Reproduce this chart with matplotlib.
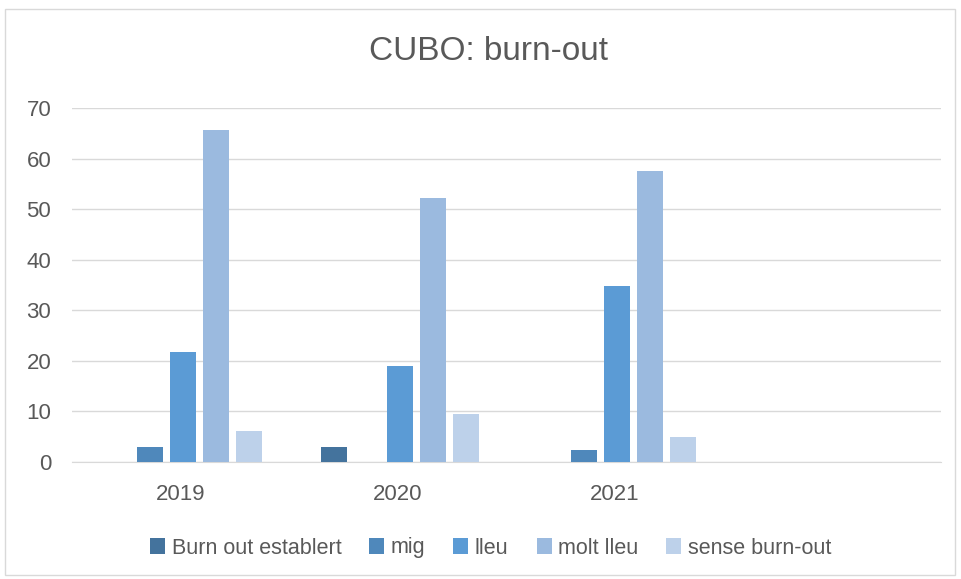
import matplotlib.pyplot as plt
import numpy as np
from matplotlib.patches import Rectangle

plt.rcParams['font.family'] = ['Liberation Sans', 'DejaVu Sans']

categories = ['2019', '2020', '2021', '']
series = ['Burn out establert', 'mig', 'lleu', 'molt lleu', 'sense burn-out']
burn_out = [0, 3.0, 0, np.nan]
mig = [3.0, 0, 2.4, np.nan]
lleu = [21.8, 19.0, 34.9, np.nan]
molt_lleu = [65.6, 52.3, 57.5, np.nan]
sense = [6.1, 9.4, 4.9, np.nan]
values = [burn_out, mig, lleu, molt_lleu, sense]
colors = ['#44739D', '#4F88BB', '#5B9BD5', '#9BBADF', '#BDD1EA']

fig = plt.figure(figsize=(9.62, 5.79), dpi=100)
fig.patches.append(Rectangle((5/962, 4/579), 950/962, 566/579, transform=fig.transFigure,
                             fill=False, edgecolor='#D9D9D9', lw=1))
ax = fig.add_axes([72/962, 1-462/579, (941-72)/962, (462-108)/579])

x = np.arange(len(categories))
step = 0.152
width = 0.12
for i, (name, vals, c) in enumerate(zip(series, values, colors)):
    ax.bar(x + (i - 2) * step + 0.01, vals, width, color=c, label=name, zorder=3)

ax.set_xlim(-0.5, len(categories) - 0.5)
ax.set_ylim(0, 70)
ax.set_yticks(range(0, 71, 10))
ax.set_xticks(x)
ax.set_xticklabels(categories)
ax.grid(axis='y', color='#D9D9D9', lw=1, zorder=0)
for s in ['top', 'right', 'left']:
    ax.spines[s].set_visible(False)
ax.spines['bottom'].set_color('#D9D9D9')
ax.tick_params(length=0, labelsize=16, colors='#595959')
ax.tick_params(axis='x', pad=16)
ax.tick_params(axis='y', pad=15)

fig.text(0.508, 1-52/579, 'CUBO: burn-out', ha='center', va='center', fontsize=24, color='#595959')
fig.legend(loc='center', bbox_to_anchor=(0.51, 1-548/579), ncol=5, frameon=False,
           fontsize=15.5, labelcolor='#595959', handlelength=0.7, handleheight=0.7,
           handletextpad=0.3, columnspacing=1.3)

fig.savefig('out.png', dpi=100)
